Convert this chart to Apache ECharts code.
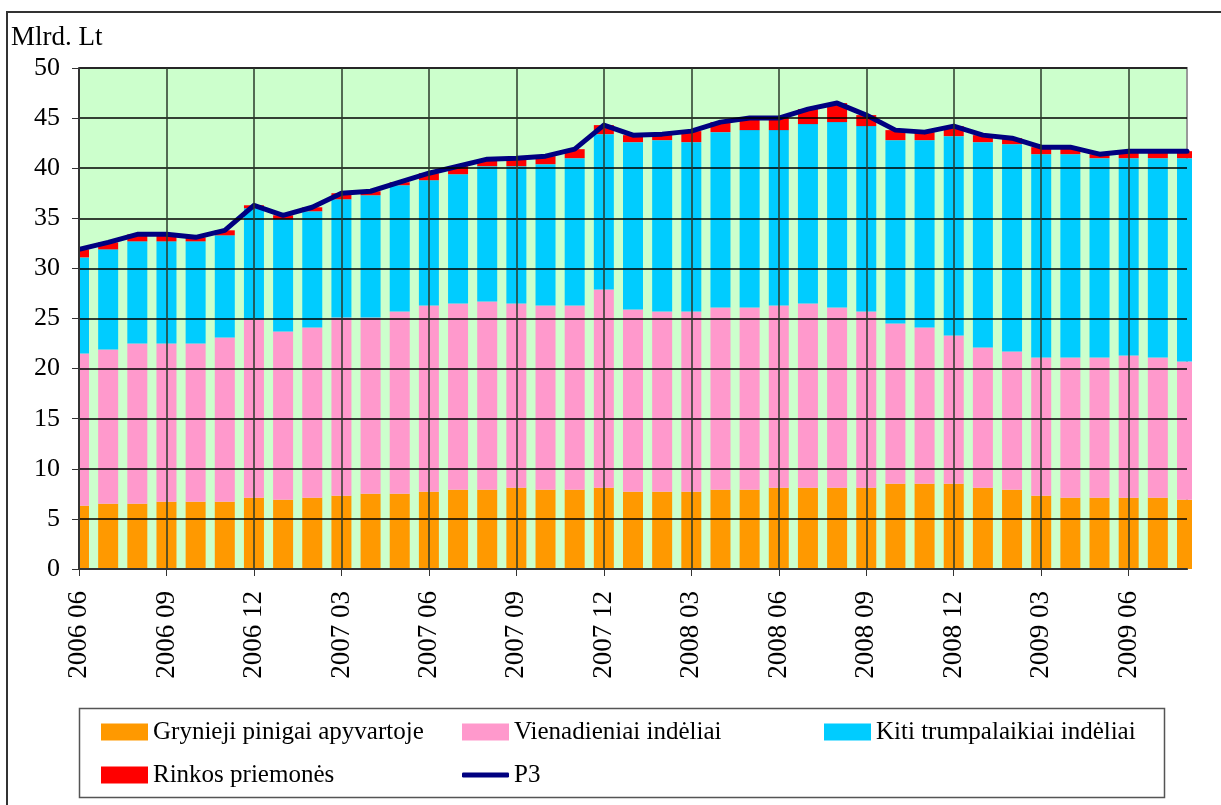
<!DOCTYPE html>
<html>
<head>
<meta charset="utf-8">
<script src="https://cdn.jsdelivr.net/npm/echarts@6/dist/echarts.min.js"></script>
<style>
  html, body { margin: 0; padding: 0; background: #fff; }
  #main { width: 1221px; height: 805px; }
</style>
</head>
<body>
<div id="main"></div>
<script>
// menesiai 2006 06 - 2009 08
var months = [
  "2006 06","2006 07","2006 08","2006 09","2006 10","2006 11","2006 12",
  "2007 01","2007 02","2007 03","2007 04","2007 05","2007 06","2007 07","2007 08","2007 09","2007 10","2007 11","2007 12",
  "2008 01","2008 02","2008 03","2008 04","2008 05","2008 06","2008 07","2008 08","2008 09","2008 10","2008 11","2008 12",
  "2009 01","2009 02","2009 03","2009 04","2009 05","2009 06","2009 07","2009 08"
];

// Grynieji pinigai apyvartoje
var cash = [6.3,6.5,6.5,6.7,6.7,6.7,7.1,6.9,7.1,7.3,7.5,7.5,7.7,7.9,7.9,8.1,7.9,7.9,8.1,
  7.7,7.7,7.7,7.9,7.9,8.1,8.1,8.1,8.1,8.5,8.5,8.5,8.1,7.9,7.3,7.1,7.1,7.1,7.1,6.9];
// Vienadieniai indeliai
var overnight = [15.2,15.4,16.0,15.8,15.8,16.4,17.8,16.8,17.0,17.8,17.6,18.2,18.6,18.6,18.8,18.4,18.4,18.4,19.8,
  18.2,18.0,18.0,18.2,18.2,18.2,18.4,18.0,17.6,16.0,15.6,14.8,14.0,13.8,13.8,14.0,14.0,14.2,14.0,13.8];
// Kiti trumpalaikiai indeliai
var otherDep = [9.6,10.0,10.2,10.2,10.2,10.2,11.1,11.2,11.6,11.8,12.2,12.6,12.5,12.9,13.5,13.7,14.1,14.7,15.5,
  16.7,17.1,16.9,17.5,17.7,17.5,17.9,18.5,18.5,18.3,18.7,19.9,20.5,20.7,20.3,20.3,19.9,19.7,19.9,20.3];
// Rinkos priemones
var market = [0.8,0.7,0.7,0.7,0.4,0.5,0.3,0.4,0.4,0.6,0.4,0.3,0.7,0.8,0.7,0.8,0.8,0.9,0.9,
  0.7,0.6,1.1,1.0,1.2,1.2,1.5,1.9,1.1,1.0,0.8,1.0,0.7,0.6,0.7,0.7,0.4,0.8,0.8,0.7];
// P3
var p3 = [31.9,32.6,33.4,33.4,33.1,33.8,36.3,35.3,36.1,37.5,37.7,38.6,39.5,40.2,40.9,41.0,41.2,41.9,44.3,
  43.3,43.4,43.7,44.6,45.0,45.0,45.9,46.5,45.3,43.8,43.6,44.2,43.3,43.0,42.1,42.1,41.4,41.7,41.7,41.7];

var serif = "'Liberation Serif', 'Times New Roman', serif";

var myChart = echarts.init(document.getElementById('main'));

function oneLegend(name, left, top, icon, h) {
  return {
    data: [{ name: name, icon: icon }],
    left: left,
    top: top,
    padding: 0,
    itemWidth: 47,
    itemHeight: h,
    selectedMode: false,
    textStyle: { fontFamily: serif, fontSize: 25, color: '#000', lineHeight: 26 }
  };
}

function barSeries(name, data, color) {
  return {
    name: name,
    type: 'bar',
    stack: 'p3',
    barWidth: 20,
    itemStyle: { color: color },
    data: data
  };
}

var option = {
  backgroundColor: '#fff',
  animation: false,
  title: {
    text: 'Mlrd. Lt',
    left: 11,
    top: 24,
    padding: 0,
    textStyle: { fontFamily: serif, fontSize: 27, fontWeight: 'normal', color: '#000' }
  },
  graphic: [
    { type: 'polyline', shape: { points: [[7, 805], [7, 12], [1221, 12]] }, style: { stroke: '#333', lineWidth: 2, fill: null } },
    { type: 'rect', shape: { x: 79.5, y: 708.5, width: 1085, height: 89 }, style: { stroke: '#555', lineWidth: 1.5, fill: '#fff' }, z: -1 },
    // isorines stulpeliu dalys uz grafiko ribu
    { type: 'rect', shape: { x: 60, y: 60, width: 19, height: 509 }, style: { fill: '#fff' }, z: 6 },
    { type: 'rect', shape: { x: 1192, y: 60, width: 20, height: 509 }, style: { fill: '#fff' }, z: 6 }
  ],
  legend: [
    oneLegend('Grynieji pinigai apyvartoje', 101, 719, 'rect', 17),
    oneLegend('Vienadieniai indėliai', 462, 719, 'rect', 17),
    oneLegend('Kiti trumpalaikiai indėliai', 824, 719, 'rect', 17),
    oneLegend('Rinkos priemonės', 101, 762, 'rect', 17),
    oneLegend('P3', 462, 762, 'roundRect', 5)
  ],
  grid: {
    left: 79,
    right: 34,
    top: 68,
    bottom: 236,
    show: true,
    backgroundColor: '#CCFFCC',
    borderColor: '#999',
    borderWidth: 2
  },
  xAxis: {
    type: 'category',
    data: months,
    boundaryGap: false,
    z: 10,
    axisLine: { lineStyle: { color: '#333', width: 2 } },
    axisTick: { show: true, interval: 2, length: 7, lineStyle: { color: '#333' } },
    axisLabel: { interval: 2, rotate: 90, margin: 22, fontFamily: serif, fontSize: 27, color: '#000' },
    splitLine: { show: true, interval: 2, lineStyle: { color: '#2a3a2a', width: 1.5 } }
  },
  yAxis: {
    type: 'value',
    min: 0,
    max: 50,
    interval: 5,
    z: 10,
    axisLine: { show: true, lineStyle: { color: '#333', width: 2 } },
    axisTick: { show: true, length: 7, lineStyle: { color: '#333' } },
    axisLabel: { margin: 19, fontFamily: serif, fontSize: 26, color: '#000' },
    splitLine: { lineStyle: { color: '#000', width: 1.5 } }
  },
  series: [
    barSeries('Grynieji pinigai apyvartoje', cash, '#FF9900'),
    barSeries('Vienadieniai indėliai', overnight, '#FF99CC'),
    barSeries('Kiti trumpalaikiai indėliai', otherDep, '#00CCFF'),
    barSeries('Rinkos priemonės', market, '#FF0000'),
    {
      name: 'P3',
      type: 'line',
      data: p3,
      showSymbol: false,
      symbol: 'none',
      z: 5,
      lineStyle: { color: '#000080', width: 5, cap: 'round', join: 'round' },
      itemStyle: { color: '#000080' }
    }
  ]
};

myChart.setOption(option);
</script>
</body>
</html>
